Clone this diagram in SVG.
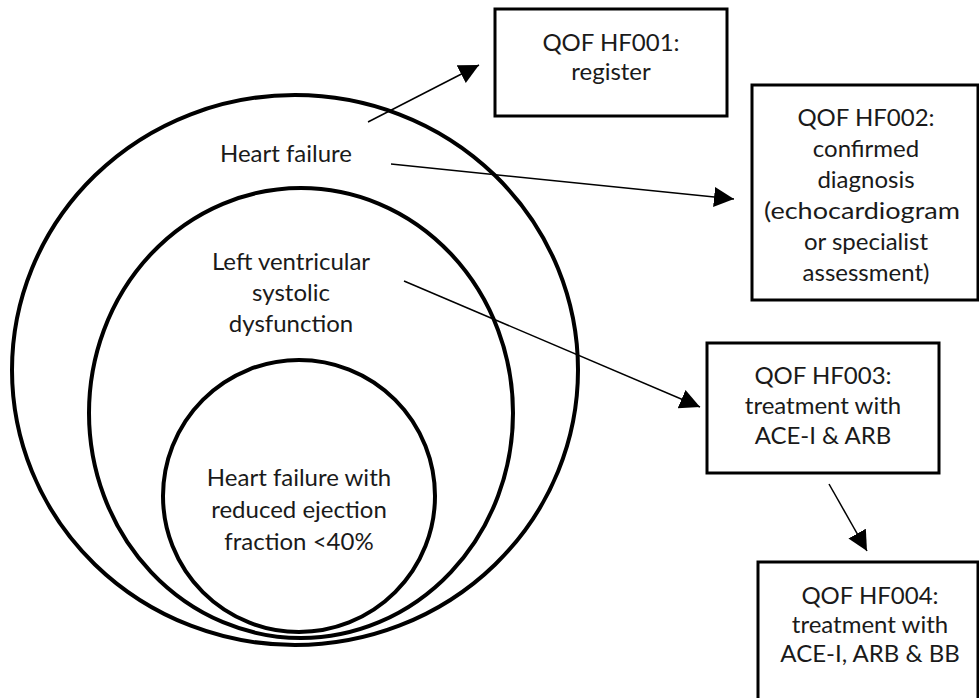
<svg xmlns="http://www.w3.org/2000/svg" width="979" height="698" viewBox="0 0 979 698">
<style>
.ring{fill:none;stroke:#000;stroke-width:4}
.box{fill:#fff;stroke:#000;stroke-width:3}
.t{font-family:Lato,"Open Sans","Liberation Sans",sans-serif;font-size:24px;fill:#1a1a1a;text-anchor:middle}
.c{stroke:#000;stroke-width:1.5;fill:none;marker-end:url(#ah)}
</style>
<defs>
<marker id="ah" markerUnits="userSpaceOnUse" markerWidth="22" markerHeight="22" refX="20" refY="10" orient="auto">
<path d="M0,0 L20,10 L0,20 z" fill="#000"/>
</marker>
</defs>
<rect width="979" height="698" fill="#fff"/>
<g id="outer">
<ellipse class="ring" cx="295" cy="370" rx="283" ry="275"/>
<text class="t" x="286" y="162">Heart failure</text>
</g>
<g id="middle">
<ellipse class="ring" cx="301" cy="413" rx="212" ry="225"/>
<text class="t" x="291" y="270">Left ventricular</text>
<text class="t" x="291" y="301">systolic</text>
<text class="t" x="291" y="332">dysfunction</text>
</g>
<g id="inner">
<ellipse class="ring" cx="299" cy="496" rx="136" ry="136"/>
<text class="t" x="299" y="486">Heart failure with</text>
<text class="t" x="299" y="518">reduced ejection</text>
<text class="t" x="299" y="550">fraction &lt;40%</text>
</g>
<g id="hf001">
<rect class="box" x="495" y="9" width="232" height="107"/>
<text class="t" x="611" y="51">QOF HF001:</text>
<text class="t" x="611" y="80">register</text>
</g>
<g id="hf002">
<rect class="box" x="752" y="85" width="226" height="215"/>
<text class="t" x="866" y="126">QOF HF002:</text>
<text class="t" x="866" y="157">confirmed</text>
<text class="t" x="866" y="188">diagnosis</text>
<text class="t" x="862" y="219" font-size="25" textLength="196" lengthAdjust="spacingAndGlyphs">(echocardiogram</text>
<text class="t" x="866" y="250">or specialist</text>
<text class="t" x="866" y="281">assessment)</text>
</g>
<g id="hf003">
<rect class="box" x="707" y="343" width="232" height="130"/>
<text class="t" x="823" y="384">QOF HF003:</text>
<text class="t" x="823" y="414">treatment with</text>
<text class="t" x="823" y="444">ACE-I &amp; ARB</text>
</g>
<g id="hf004">
<rect class="box" x="758" y="562" width="220" height="160"/>
<text class="t" x="870" y="604">QOF HF004:</text>
<text class="t" x="870" y="633">treatment with</text>
<text class="t" x="870" y="662">ACE-I, ARB &amp; BB</text>
</g>
<g id="connectors">
<line class="c" x1="368" y1="122" x2="479" y2="65"/>
<line class="c" x1="391" y1="164" x2="734" y2="199"/>
<line class="c" x1="404" y1="281" x2="700" y2="407"/>
<line class="c" x1="829" y1="484" x2="867" y2="551"/>
</g>
</svg>
